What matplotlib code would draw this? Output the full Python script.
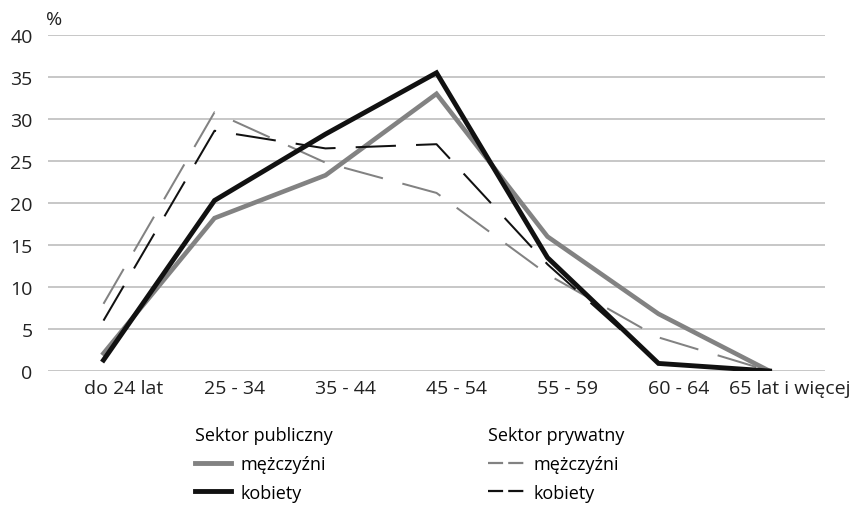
'''
Age structure of employees by sector and sex
'''

import matplotlib
matplotlib.use('Agg')
import matplotlib.pyplot as plt
from matplotlib.lines import Line2D
from matplotlib.transforms import ScaledTranslation

plt.rcParams['font.family'] = ['Open Sans', 'DejaVu Sans']

categories = ['do 24 lat', '25 - 34', '35 - 44', '45 - 54', '55 - 59', '60 - 64', '65 lat i więcej']
public_men = [2.1, 18.2, 23.3, 33.0, 16.0, 6.8, 0.0]
public_women = [1.3, 20.3, 28.2, 35.5, 13.5, 0.9, 0.0]
private_men = [8.0, 30.8, 24.8, 21.2, 11.5, 4.0, 0.0]
private_women = [6.0, 28.6, 26.5, 27.0, 12.7, 0.9, 0.0]

GRAY = '#828282'
BLACK = '#111111'
FS = 14
LEG_FS = 13

fig = plt.figure(figsize=(8.64, 5.06), dpi=100)
ax = fig.add_axes([48 / 864, 1 - 372 / 506, 777 / 864, 336 / 506])

x = range(len(categories))
ax.plot(x, public_men, color=GRAY, lw=3.3, solid_joinstyle='miter', zorder=3)
ax.plot(x, public_women, color=BLACK, lw=3.5, solid_joinstyle='miter', zorder=4)
ax.plot(x, private_men, color=GRAY, lw=1.45, dashes=(20, 10), zorder=3)
ax.plot(x, private_women, color=BLACK, lw=1.45, dashes=(20, 10), zorder=3)

ax.set_xlim(-0.5, 6.5)
ax.set_ylim(0, 40)
ax.set_yticks(range(0, 41, 5))
ax.set_xticks(list(x))
ax.set_xticklabels(categories)
ax.yaxis.grid(True, color='#b8b8b8', lw=1.1)
ax.set_axisbelow(True)
for s in ax.spines.values():
    s.set_visible(False)
ax.tick_params(length=0, labelsize=FS, colors='#222222')
ax.tick_params(axis='y', pad=11)
ax.tick_params(axis='x', pad=6)
shift = ScaledTranslation(20 / 100, 0, fig.dpi_scale_trans)
for lbl in ax.get_xticklabels():
    lbl.set_transform(lbl.get_transform() + shift)
fig.text(54 / 864, 1 - 20 / 506, '%', fontsize=FS, color='#222222', va='center', ha='center')

# legend handles with shorter dashes, as in the original
leg_pm = Line2D([], [], color=GRAY, lw=3.5)
leg_pw = Line2D([], [], color=BLACK, lw=3.5)
leg_vm = Line2D([], [], color=GRAY, lw=1.6, dashes=(6.8, 2.3))
leg_vw = Line2D([], [], color=BLACK, lw=1.6, dashes=(6.8, 2.3))

common = dict(loc='upper left', bbox_transform=fig.transFigure, frameon=False,
              fontsize=LEG_FS, title_fontsize=LEG_FS, alignment='left', handlelength=2.0,
              handletextpad=0.5, labelspacing=0.6, borderpad=0)
leg1 = ax.legend([leg_pm, leg_pw], ['mężczyźni', 'kobiety'], title='Sektor publiczny',
                 bbox_to_anchor=(186 / 864, 1 - 418 / 506), **common)
leg2 = ax.legend([leg_vm, leg_vw], ['mężczyźni', 'kobiety'], title='Sektor prywatny',
                 bbox_to_anchor=(479 / 864, 1 - 418 / 506), **common)
ax.add_artist(leg1)

fig.savefig('out.png', dpi=100)
